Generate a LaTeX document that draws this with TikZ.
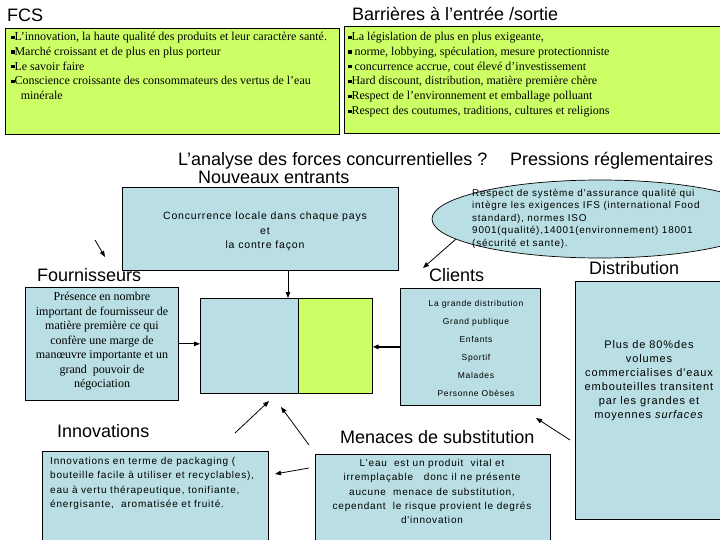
\documentclass[tikz,border=0pt]{standalone}
\usepackage{fontspec}
\setmainfont{Liberation Sans}
\newfontfamily\seriff{Liberation Serif}
\newfontfamily\tsans[LetterSpace=8]{Liberation Sans}
\usetikzlibrary{arrows.meta,shapes.geometric}
\definecolor{lgreen}{RGB}{204,255,102}
\definecolor{lblue}{RGB}{185,222,227}
\newcommand\sqb{\raisebox{0.3ex}{\rule{0.28em}{0.28em}}}
\begin{document}
\begin{tikzpicture}[x=1pt,y=-1pt,
  greenbox/.style={draw=black, fill=lgreen, line width=1pt, inner sep=0pt, anchor=north west},
  bluebox/.style={draw=black, fill=lblue, line width=0.7pt, inner sep=0pt, anchor=north west},
  ttl/.style={font=\fontsize{18}{21}\selectfont, anchor=base west, inner sep=0pt},
  sertxt/.style={inner sep=0pt, align=left, anchor=north west},
  arr/.style={-{Triangle[length=6pt,width=4.5pt]}, line width=0.8pt}]
\useasboundingbox (0,0) rectangle (720,540);
\fill[white] (0,0) rectangle (720,540);

% titles
\node[ttl] (tfcs) at (7,22) {FCS};
\node[ttl] (tbar) at (352,21) {Barrières à l’entrée /sortie};
\node[ttl] (tana) at (178,166) {L’analyse des forces concurrentielles ?};
\node[ttl] (tnou) at (198,184) {Nouveaux entrants};
\node[ttl] (tpre) at (510,166) {Pressions réglementaires};
\node[ttl] (tfou) at (37,281) {Fournisseurs};
\node[ttl] (tcli) at (429,281) {Clients};
\node[ttl] (tdis) at (589,274) {Distribution};
\node[ttl] (tinn) at (57,437) {Innovations};
\node[ttl] (tmen) at (340,443) {Menaces de substitution};

% top green boxes
\node[greenbox, minimum width=334, minimum height=106] (fcs) at (5,28) {};
\node[sertxt, font={\seriff\fontsize{12}{14.8}\selectfont}] (fcst) at (11,32)
 {\sqb L’innovation, la haute qualité des produits et leur caractère santé.\\
  \sqb Marché croissant et de plus en plus porteur\\
  \sqb Le savoir faire\\
  \sqb Conscience croissante des consommateurs des vertus de l’eau\\
  \hspace*{0.8em}minérale};
\node[greenbox, minimum width=376, minimum height=107] (bar) at (344,26) {};
\node[sertxt, font={\seriff\fontsize{12}{14.8}\selectfont}] (bart) at (348,32)
 {\sqb La législation de plus en plus exigeante,\\
  \sqb\ norme, lobbying, spéculation, mesure protectionniste\\
  \sqb\ concurrence accrue, cout élevé d’investissement\\
  \sqb Hard discount, distribution, matière première chère\\
  \sqb Respect de l’environnement et emballage polluant\\
  \sqb Respect des coutumes, traditions, cultures et religions};

% Nouveaux entrants
\node[bluebox, minimum width=276, minimum height=83] (conc) at (122,187) {};
\node[inner sep=0pt, align=center, anchor=north, font={\tsans\fontsize{10.5}{14.5}\selectfont}] (conct) at (265,212)
 {Concurrence locale dans chaque pays\\ et\\ la contre façon};

% ellipse
\node[ellipse, draw=black, fill=lblue, line width=0.7pt, minimum width=336, minimum height=78, inner sep=0pt] (ell) at (600,219) {};
\node[sertxt, font={\tsans\fontsize{9.9}{12.5}\selectfont}] (ellt) at (472,189)
 {Respect de système d’assurance qualité qui\\
  intègre les exigences IFS (international Food\\
  standard), normes ISO\\
  9001(qualité),14001(environnement) 18001\\
  (sécurité et sante).};

% Fournisseurs
\node[bluebox, minimum width=153, minimum height=113] (fou) at (25,287) {};
\node[inner sep=0pt, align=center, anchor=north, font={\seriff\fontsize{12}{14.5}\selectfont}] (fout) at (102,292)
 {Présence en nombre\\ important de fournisseur de\\ matière première ce qui\\ confère une marge de\\ manœuvre importante et un\\ grand\ \ pouvoir de\\ négociation};

% centre
\node[bluebox, minimum width=98, minimum height=95] (cblue) at (200,298) {};
\node[bluebox, fill=lgreen, minimum width=74, minimum height=95] (cgreen) at (298,298) {};

% Clients
\node[bluebox, minimum width=140, minimum height=117] (cli) at (400,288) {};
\node[inner sep=0pt, align=center, anchor=north, font={\tsans\fontsize{8.5}{18}\selectfont}] (clit) at (476,300)
 {La grande distribution\\ Grand publique\\ Enfants\\ Sportif\\ Malades\\ Personne Obèses};

% Distribution
\node[bluebox, minimum width=146, minimum height=238] (dis) at (575,281) {};
\node[inner sep=0pt, align=center, anchor=north, font={\tsans\fontsize{11}{14}\selectfont}] (dist) at (649,340)
 {Plus de 80\%des\\ volumes\\ commercialises d'eaux\\ embouteilles transitent\\ par les grandes et\\ moyennes \textit{surfaces}};

% Innovations
\node[bluebox, minimum width=226, minimum height=95] (inn) at (42,451) {};
\node[sertxt, font={\tsans\fontsize{10}{14.5}\selectfont}] (innt) at (50,457)
 {Innovations en terme de packaging (\\
  bouteille facile à utiliser et recyclables),\\
  eau à vertu thérapeutique, tonifiante,\\
  énergisante,\ \ aromatisée et fruité.};

% Menaces
\node[bluebox, minimum width=235, minimum height=92] (men) at (315,454) {};
\node[inner sep=0pt, align=center, anchor=north, font={\tsans\fontsize{10}{14.3}\selectfont}] (ment) at (432,459)
 {L'eau\ \ est un produit\ \ vital et\\ irremplaçable\ \ \ donc il ne présente\\ aucune\ \ menace de substitution,\\ cependant\ \ le risque provient le degrés\\ d'innovation};

% connector end points
\coordinate (x288) at (288,0);
\coordinate (a1s) at (95,240);
\coordinate (a1e) at (105,257);
\coordinate (a5e) at (423,268);
\coordinate (a6s) at (570,440);
\coordinate (a6e) at (536,418);
\coordinate (a7s) at (235,433);
\coordinate (a7e) at (269,401);
\coordinate (a8s) at (309,445);
\coordinate (a8e) at (281,407);
\coordinate (a9s) at (309,468);
\coordinate (a9e) at (275,474);

% connectors
\draw[arr] (a1s) -- (a1e);
\draw[arr] (conc.south -| x288) -- (cblue.north -| x288);
\draw[arr] (fou.east) -- (fou.east -| cblue.west);
\draw[arr, line width=1.6pt] (cli.west) -- (cli.west -| cgreen.east);
\draw[arr] (ell.188) -- (a5e);
\draw[arr] (a6s) -- (a6e);
\draw[arr] (a7s) -- (a7e);
\draw[arr] (a8s) -- (a8e);
\draw[arr] (a9s) -- (a9e);
\end{tikzpicture}
\end{document}
